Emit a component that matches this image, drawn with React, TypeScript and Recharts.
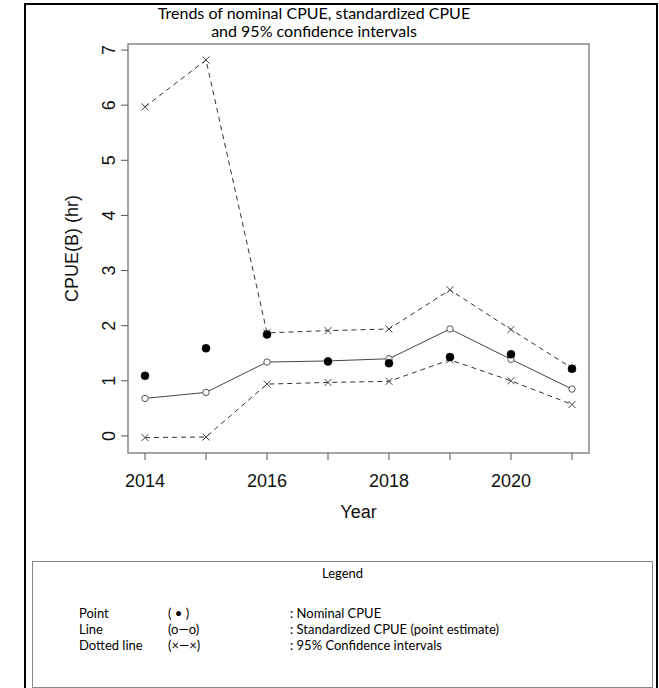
import React from "react";
import {
  ComposedChart,
  Line,
  XAxis,
  YAxis,
  ReferenceArea,
} from "recharts";

const years = [2014, 2015, 2016, 2017, 2018, 2019, 2020, 2021];
const nominal = [1.09, 1.59, 1.84, 1.35, 1.32, 1.43, 1.48, 1.22];
const standardized = [0.68, 0.79, 1.34, 1.36, 1.4, 1.94, 1.39, 0.85];
const upperCI = [5.97, 6.82, 1.87, 1.91, 1.94, 2.65, 1.93, 1.23];
const lowerCI = [-0.03, -0.02, 0.94, 0.97, 0.99, 1.38, 1.0, 0.57];

const yTicks = [0, 1, 2, 3, 4, 5, 6, 7];
const xLabelYears = [2014, 2016, 2018, 2020];

const legendRows = [
  { name: "Point", symbol: "( \u2022 )", desc: ": Nominal CPUE" },
  { name: "Line", symbol: "(o\u2014o)", desc: ": Standardized CPUE (point estimate)" },
  { name: "Dotted line", symbol: "(\u00d7\u2014\u00d7)", desc: ": 95% Confidence intervals" },
];

const data = years.map((year, i) => ({
  year,
  nominal: nominal[i],
  standardized: standardized[i],
  upper: upperCI[i],
  lower: lowerCI[i],
}));

const xDomain = [2013.721, 2021.279];
const yDomain = [-0.31, 7.11];

const axisFont = "'Liberation Sans', Arial, sans-serif";
const textFont = "Lato, 'Open Sans', sans-serif";

const XTick = (props: any) => {
  const { x, y, payload } = props;
  if (!xLabelYears.includes(payload.value)) return null;
  return (
    <text x={x} y={y + 25} textAnchor="middle" fontSize={18} fontFamily={axisFont} fill="#111">
      {payload.value}
    </text>
  );
};

const YTick = (props: any) => {
  const { x, y, payload } = props;
  const bx = x - 4;
  return (
    <text
      x={bx}
      y={y}
      textAnchor="middle"
      fontSize={18}
      fontFamily={axisFont}
      fill="#111"
      transform={`rotate(-90, ${bx}, ${y})`}
    >
      {payload.value}
    </text>
  );
};

const CrossDot = (props: any) => {
  const { cx, cy } = props;
  if (cx == null || cy == null) return null;
  const s = 3.5;
  return (
    <path
      key={`x-${cx}-${cy}`}
      d={`M${cx - s},${cy - s}L${cx + s},${cy + s}M${cx - s},${cy + s}L${cx + s},${cy - s}`}
      stroke="#444"
      strokeWidth={1}
      fill="none"
    />
  );
};

export default function App() {
  return (
    <div
      style={{
        position: "absolute",
        left: 0,
        top: 0,
        width: 659,
        height: 688,
        overflow: "hidden",
        background: "#fff",
      }}
    >
      <ComposedChart
        width={659}
        height={688}
        data={data}
        margin={{ top: 44, right: 70, left: 68, bottom: 165 }}
      >
        <XAxis
          dataKey="year"
          type="number"
          domain={xDomain}
          ticks={years}
          tick={XTick}
          tickSize={7}
          axisLine={false}
          tickLine={{ stroke: "#555" }}
          height={70}
          allowDataOverflow
          label={{
            value: "Year",
            position: "insideBottom",
            offset: 5,
            fontSize: 18,
            fontFamily: axisFont,
            fill: "#111",
          }}
        />
        <YAxis
          type="number"
          domain={yDomain}
          ticks={yTicks}
          tick={YTick}
          tickSize={7}
          axisLine={false}
          tickLine={{ stroke: "#555" }}
          width={60}
          allowDataOverflow
          label={{
            value: "CPUE(B) (hr)",
            angle: -90,
            position: "insideLeft",
            offset: 4,
            fontSize: 18,
            fontFamily: axisFont,
            fill: "#111",
            style: { textAnchor: "middle" },
          }}
        />
        <ReferenceArea
          x1={xDomain[0]}
          x2={xDomain[1]}
          y1={yDomain[0]}
          y2={yDomain[1]}
          fill="none"
          stroke="#888"
          strokeWidth={1.5}
          ifOverflow="visible"
        />
        <Line
          dataKey="upper"
          stroke="#333"
          strokeWidth={1}
          strokeDasharray="5 4"
          dot={CrossDot}
          activeDot={false}
          isAnimationActive={false}
        />
        <Line
          dataKey="lower"
          stroke="#333"
          strokeWidth={1}
          strokeDasharray="5 4"
          dot={CrossDot}
          activeDot={false}
          isAnimationActive={false}
        />
        <Line
          dataKey="standardized"
          stroke="#444"
          strokeWidth={1}
          dot={{ r: 3.2, fill: "#fff", stroke: "#555", strokeWidth: 1 }}
          activeDot={false}
          isAnimationActive={false}
        />
        <Line
          dataKey="nominal"
          stroke="none"
          dot={{ r: 4, fill: "#000", stroke: "#000", strokeWidth: 0.5 }}
          activeDot={false}
          isAnimationActive={false}
        />
      </ComposedChart>

      {/* outer frame */}
      <div
        style={{
          position: "absolute",
          left: 24,
          top: 3,
          width: 634,
          height: 700,
          border: "2px solid #000",
          boxSizing: "border-box",
          pointerEvents: "none",
        }}
      />

      {/* title */}
      <div
        style={{
          position: "absolute",
          left: 114,
          top: 4,
          width: 400,
          textAlign: "center",
          fontFamily: textFont,
          fontSize: 16,
          lineHeight: "18px",
          color: "#000",
        }}
      >
        Trends of nominal CPUE, standardized CPUE
        <br />
        and 95% confidence intervals
      </div>

      {/* legend box */}
      <div
        style={{
          position: "absolute",
          left: 32,
          top: 561,
          width: 621,
          height: 127,
          border: "1.5px solid #888",
          boxSizing: "border-box",
          fontFamily: textFont,
          fontSize: 13,
          color: "#000",
        }}
      >
        <div style={{ position: "absolute", left: 0, right: 0, top: 3, textAlign: "center" }}>
          Legend
        </div>
        {legendRows.map((r, i) => (
          <div
            key={r.name}
            style={{ position: "absolute", top: 43 + i * 16, left: 0, right: 0, lineHeight: "16px" }}
          >
            <span style={{ position: "absolute", left: 46 }}>{r.name}</span>
            <span style={{ position: "absolute", left: 135 }}>{r.symbol}</span>
            <span style={{ position: "absolute", left: 257 }}>{r.desc}</span>
          </div>
        ))}
      </div>
    </div>
  );
}
